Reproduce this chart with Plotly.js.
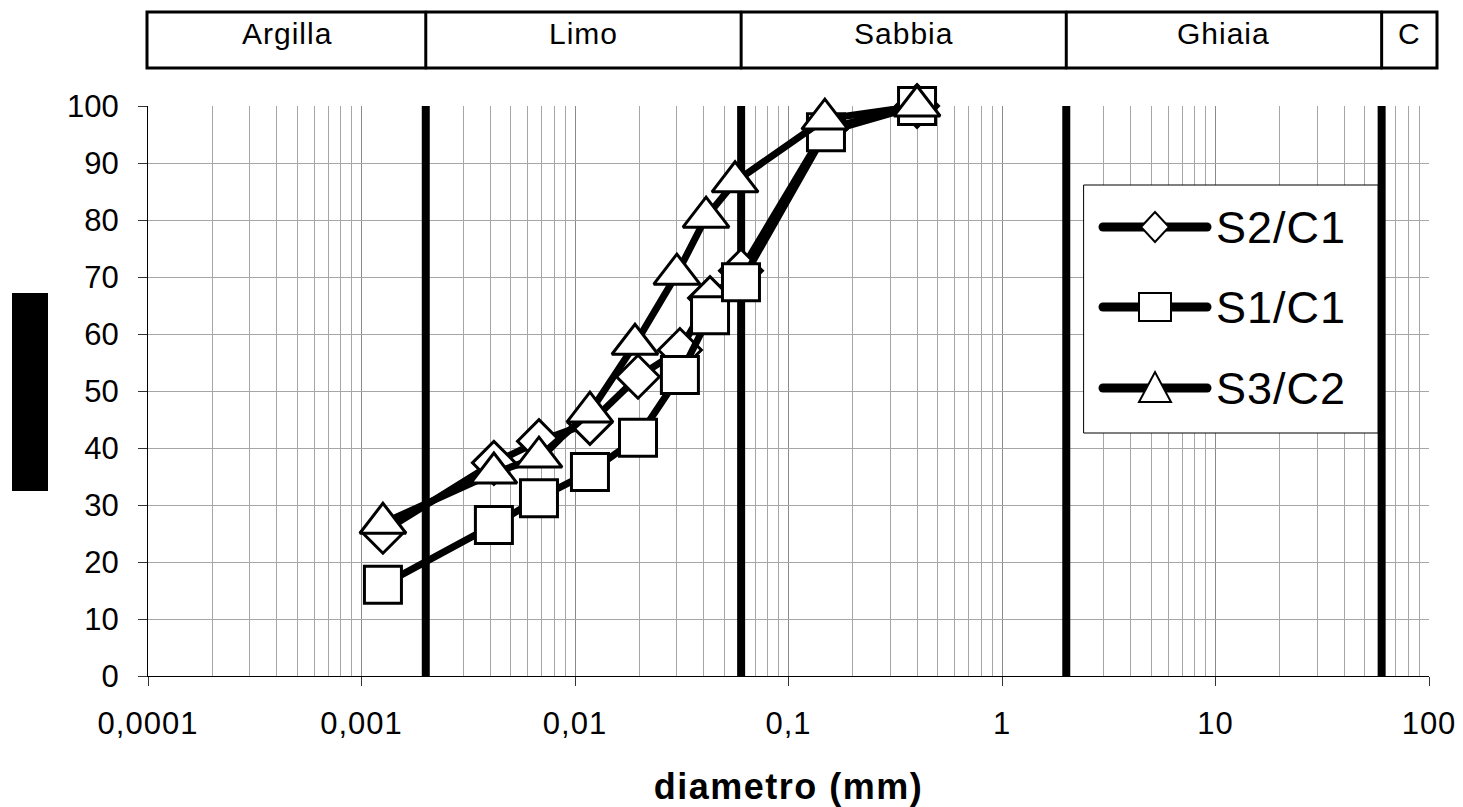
<!DOCTYPE html>
<html><head><meta charset="utf-8">
<script src="https://cdn.plot.ly/plotly-3.0.1.min.js"></script>
<style>
html,body{margin:0;padding:0;background:#fff;}
#chart{width:1463px;height:807px;}
.shapelayer path{stroke-linecap:round;}
.xtitle{letter-spacing:1.5px;}
.annotation-text{letter-spacing:1px;}
.xtick text{letter-spacing:1px;}
</style></head><body><div id="chart"></div>
<script>
// ---- data ----
const diamS12 = [0.00126, 0.00417, 0.00678, 0.01175, 0.01973, 0.0310, 0.0429, 0.0599, 0.1498, 0.40];
const valS2C1 = [25.3, 37.4, 41.2, 44.4, 52.5, 57.2, 66.3, 71.1, 96.0, 100];
const valS1C1 = [16.0, 26.5, 31.2, 35.8, 41.8, 52.8, 63.3, 69.1, 95.4, 100];
const diamS3 = [0.00126, 0.00417, 0.00678, 0.01175, 0.0191, 0.0300, 0.0411, 0.0562, 0.148, 0.40];
const valS3C2 = [26.8, 35.6, 38.4, 46.3, 58.2, 70.5, 80.5, 86.7, 97.7, 100];
const seriesNames = ['S2/C1', 'S1/C1', 'S3/C2'];
const classLimits = [0.002, 0.06, 2, 60];
const classNames = ['Argilla', 'Limo', 'Sabbia', 'Ghiaia', 'C'];
const xTickVals = [0.0001, 0.001, 0.01, 0.1, 1, 10, 100];
const xTickText = ['0,0001', '0,001', '0,01', '0,1', '1', '10', '100'];
const xTitle = 'diametro (mm)';

// ---- geometry helpers (pixel -> paper) ----
const M = {l: 148, r: 34, t: 106, b: 131};
const W = 1463, H = 807;
const PW = W - M.l - M.r, PH = H - M.t - M.b;
const fx = p => (p - M.l) / PW;
const fy = p => (H - M.b - p) / PH;
const FONT = 'Liberation Sans, Arial, sans-serif';

const shapes = [];
const annotations = [];

// class boundary thick lines inside the plot
classLimits.forEach(v => shapes.push({type: 'line', xref: 'x', yref: 'y', x0: v, x1: v, y0: 0, y1: 100,
  line: {color: '#000', width: 8}, layer: 'between'}));

// top classification table
shapes.push({type: 'rect', xref: 'paper', yref: 'paper', x0: fx(147), x1: fx(1437), y0: fy(68), y1: fy(12),
  line: {color: '#000', width: 3}, fillcolor: 'rgba(0,0,0,0)'});
classLimits.forEach(v => shapes.push({type: 'line', xref: 'x', yref: 'paper', x0: v, x1: v, y0: fy(68), y1: fy(12),
  line: {color: '#000', width: 3}}));
const edgesLog = [-4].concat(classLimits.map(Math.log10));
classNames.forEach((name, i) => {
  let ann = {text: name, yref: 'paper', y: fy(33), showarrow: false, xanchor: 'center', yanchor: 'middle',
    font: {family: FONT, size: 30, color: '#000'}};
  if (i < classLimits.length) { ann.xref = 'x'; ann.x = (edgesLog[i] + edgesLog[i + 1]) / 2; }
  else { ann.xref = 'paper'; ann.x = fx(1409); }
  annotations.push(ann);
});

// y-axis title block (rendered as solid black in the source)
shapes.push({type: 'rect', xref: 'paper', yref: 'paper', x0: fx(12), x1: fx(48), y0: fy(491), y1: fy(293),
  line: {width: 0}, fillcolor: '#000'});

// custom legend
shapes.push({type: 'rect', xref: 'paper', yref: 'paper', x0: fx(1084), x1: fx(1378), y0: fy(433), y1: fy(185),
  line: {color: '#000', width: 1}, fillcolor: '#fff', layer: 'above'});
const legY = [227, 307, 388];
const legSym = ['diamond', 'square', 'triangle'];
const mx = 1155;
legY.forEach((py, i) => {
  shapes.push({type: 'line', xref: 'paper', yref: 'paper', x0: fx(1103), x1: fx(1207), y0: fy(py), y1: fy(py),
    line: {color: '#000', width: 9}, layer: 'above'});
  let pts;
  if (legSym[i] === 'diamond') pts = [[mx - 14, py], [mx, py - 15], [mx + 14, py], [mx, py + 15]];
  else if (legSym[i] === 'square') pts = [[mx - 16, py - 14], [mx + 16, py - 14], [mx + 16, py + 14], [mx - 16, py + 14]];
  else pts = [[mx - 16, py + 14], [mx + 16, py + 14], [mx, py - 16]];
  const path = 'M' + pts.map(p => fx(p[0]) + ',' + fy(p[1])).join(' L') + ' Z';
  shapes.push({type: 'path', xref: 'paper', yref: 'paper', path: path, fillcolor: '#fff',
    line: {color: '#000', width: 2}, layer: 'above'});
  annotations.push({text: seriesNames[i], xref: 'paper', yref: 'paper', x: fx(1214), y: fy(py), xanchor: 'left',
    yanchor: 'middle', showarrow: false, font: {family: FONT, size: 45, color: '#000'}});
});

const mk = (sym, size) => ({symbol: sym, size: size, color: '#fff', line: {color: '#000', width: 3}});
const traces = [
  {x: diamS12, y: valS2C1, name: seriesNames[0], mode: 'lines+markers', cliponaxis: false, line: {color: '#000', width: 7}, marker: mk('diamond', 33)},
  {x: diamS12, y: valS1C1, name: seriesNames[1], mode: 'lines+markers', cliponaxis: false, line: {color: '#000', width: 7}, marker: mk('square', 37)},
  {x: diamS3, y: valS3C2, name: seriesNames[2], mode: 'lines+markers', cliponaxis: false, line: {color: '#000', width: 7}, marker: mk('triangle-up', 40)}
];

const layout = {
  width: W, height: H, margin: M, showlegend: false,
  paper_bgcolor: '#fff', plot_bgcolor: '#fff',
  font: {family: FONT, color: '#000'},
  xaxis: {
    type: 'log', range: [-4, 2], tickmode: 'array', tickvals: xTickVals, ticktext: xTickText,
    ticks: 'outside', ticklen: 9, tickcolor: '#333', tickwidth: 1,
    showline: true, linecolor: '#000', linewidth: 1,
    showgrid: true, gridcolor: '#8a8a8a', gridwidth: 1, zeroline: false,
    minor: {tickmode: 'linear', dtick: 'D1', showgrid: true, gridcolor: '#a6a6a6', gridwidth: 1, ticks: ''},
    tickfont: {family: FONT, size: 31, color: '#000'}, ticklabelstandoff: 11,
    title: {text: xTitle, font: {family: FONT, size: 36, color: '#000', weight: 'bold'}, standoff: 34}
  },
  yaxis: {
    range: [0, 100], tickmode: 'linear', tick0: 0, dtick: 10,
    ticks: 'outside', ticklen: 9, tickcolor: '#333', tickwidth: 1,
    showline: true, linecolor: '#000', linewidth: 1,
    showgrid: true, gridcolor: '#a6a6a6', gridwidth: 1, zeroline: false,
    tickfont: {family: FONT, size: 31, color: '#000'}, ticklabelstandoff: 13
  },
  shapes: shapes, annotations: annotations
};
Plotly.newPlot('chart', traces, layout, {displayModeBar: false, staticPlot: true});
</script></body></html>
